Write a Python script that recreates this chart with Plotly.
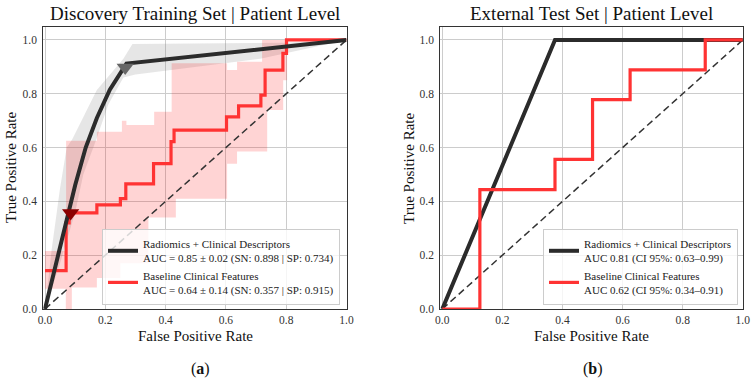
import plotly.graph_objects as go

# ---------------- data ----------------
# Discovery training set (mean ROC of model + band)
train_model_fpr = [0.0, 0.10, 0.135, 0.172, 0.215, 0.27, 1.0]
train_model_tpr = [0.0, 0.46, 0.60, 0.71, 0.815, 0.912, 1.0]
train_model_up_fpr = [0.0, 0.022, 0.05, 0.072, 0.09, 0.172, 0.26, 0.29, 0.8, 1.0]
train_model_up_tpr = [0.0, 0.22, 0.45, 0.60, 0.63, 0.814, 0.93, 0.985, 0.99, 1.0]
train_model_lo_fpr = [0.0, 0.05, 0.10, 0.127, 0.17, 0.21, 0.26, 0.30, 0.42, 0.714, 1.0]
train_model_lo_tpr = [0.0, 0.17, 0.36, 0.50, 0.63, 0.76, 0.86, 0.872, 0.89, 0.93, 1.0]

# Discovery training set (baseline clinical, step ROC + band)
train_base_fpr = [0.0, 0.07, 0.08, 0.172, 0.25, 0.268, 0.36, 0.418, 0.428, 0.602, 0.642, 0.716, 0.73, 0.789, 0.801, 1.0]
train_base_tpr = [0.143, 0.32, 0.357, 0.387, 0.41, 0.465, 0.54, 0.622, 0.665, 0.714, 0.755, 0.795, 0.888, 0.95, 1.0, 1.0]
train_base_up_fpr = [0.0, 0.07, 0.172, 0.255, 0.27, 0.362, 0.42, 0.604, 0.637, 0.72, 1.0]
train_base_up_tpr = [0.216, 0.625, 0.659, 0.70, 0.684, 0.733, 0.913, 0.888, 0.919, 1.0, 1.0]
train_base_lo_fpr = [0.0, 0.069, 0.089, 0.172, 0.25, 0.343, 0.434, 0.604, 0.637, 0.737, 0.79, 0.803, 1.0]
train_base_lo_tpr = [0.075, 0.0, 0.08, 0.115, 0.17, 0.34, 0.41, 0.54, 0.585, 0.74, 0.85, 1.0, 1.0]

# operating points (1 - SP, SN)
model_sn, model_sp = 0.898, 0.734
base_sn, base_sp = 0.357, 0.915

# External test set
test_model_fpr = [0.0, 0.375, 1.0]
test_model_tpr = [0.0, 1.0, 1.0]
test_base_fpr = [0.0, 0.125, 0.375, 0.5, 0.625, 0.875, 1.0]
test_base_tpr = [0.0, 0.444, 0.556, 0.778, 0.889, 1.0, 1.0]

chance = [0.0, 1.0]
ticks = [0.0, 0.2, 0.4, 0.6, 0.8, 1.0]
tick_labels = ["0.0", "0.2", "0.4", "0.6", "0.8", "1.0"]

names_train = ["Radiomics + Clinical Descriptors<br>AUC = 0.85 ± 0.02 (SN: 0.898 | SP: 0.734)",
               "Baseline Clinical Features<br>AUC = 0.64 ± 0.14 (SN: 0.357 | SP: 0.915)"]
names_test = ["Radiomics + Clinical Descriptors<br>AUC 0.81 (CI 95%: 0.63–0.99)",
              "Baseline Clinical Features<br>AUC 0.62 (CI 95%: 0.34–0.91)"]

# ---------------- styling ----------------
FONT = "Liberation Serif"
BLACK = "#2b2b2b"
RED = "#ff3333"
W, H = 755, 383

fig = go.Figure()


def expand_hv(xs, ys):
    ox, oy = [xs[0]], [ys[0]]
    for i in range(1, len(xs)):
        ox += [xs[i], xs[i]]
        oy += [ys[i - 1], ys[i]]
    return ox, oy


def band(lo_x, lo_y, up_x, up_y, color, step, xa, ya):
    if step:
        lo_x, lo_y = expand_hv(lo_x, lo_y)
        up_x, up_y = expand_hv(up_x, up_y)
    px = list(up_x) + list(reversed(lo_x))
    py = list(up_y) + list(reversed(lo_y))
    fig.add_trace(go.Scatter(x=px, y=py, mode="lines", line=dict(width=0),
                             fill="toself", fillcolor=color,
                             showlegend=False, hoverinfo="skip", xaxis=xa, yaxis=ya))


# left panel
band(train_model_lo_fpr, train_model_lo_tpr, train_model_up_fpr, train_model_up_tpr,
     "rgba(128,128,128,0.2)", False, "x", "y")
band(train_base_lo_fpr, train_base_lo_tpr, train_base_up_fpr, train_base_up_tpr,
     "rgba(255,0,0,0.17)", True, "x", "y")
fig.add_trace(go.Scatter(x=chance, y=chance, mode="lines", line=dict(color="#333", width=1.5, dash="7px,4px"),
                         showlegend=False, xaxis="x", yaxis="y"))
fig.add_trace(go.Scatter(x=train_base_fpr, y=train_base_tpr, mode="lines",
                         line=dict(color=RED, width=3.2, shape="hv"),
                         name=names_train[1], legendrank=2, legend="legend", xaxis="x", yaxis="y"))
fig.add_trace(go.Scatter(x=train_model_fpr, y=train_model_tpr, mode="lines",
                         line=dict(color=BLACK, width=4),
                         name=names_train[0], legendrank=1, legend="legend", xaxis="x", yaxis="y"))
fig.add_trace(go.Scatter(x=[1 - model_sp], y=[model_sn], mode="markers",
                         marker=dict(symbol="triangle-down", size=15, color="#666666"),
                         showlegend=False, xaxis="x", yaxis="y"))
fig.add_trace(go.Scatter(x=[1 - base_sp], y=[base_sn], mode="markers",
                         marker=dict(symbol="triangle-down", size=15, color="#8b0000"),
                         showlegend=False, xaxis="x", yaxis="y"))

# right panel
fig.add_trace(go.Scatter(x=chance, y=chance, mode="lines", line=dict(color="#333", width=1.5, dash="7px,4px"),
                         showlegend=False, xaxis="x2", yaxis="y2"))
fig.add_trace(go.Scatter(x=test_model_fpr, y=test_model_tpr, mode="lines",
                         line=dict(color=BLACK, width=4),
                         name=names_test[0], legendrank=1, legend="legend2", xaxis="x2", yaxis="y2"))
fig.add_trace(go.Scatter(x=test_base_fpr, y=test_base_tpr, mode="lines",
                         line=dict(color=RED, width=3.2, shape="hv"),
                         name=names_test[1], legendrank=2, legend="legend2", xaxis="x2", yaxis="y2"))


def px_x(p):
    return p / W


def px_y(p):
    return 1 - p / H


axis_common = dict(tickvals=ticks, ticktext=tick_labels, showgrid=True, gridcolor="#cccccc", gridwidth=1,
                   zeroline=False, showline=True, linecolor="#333", linewidth=1, mirror=True,
                   automargin=False,
                   tickfont=dict(family=FONT, size=11.5, color="#333"))
xax = dict(ticks="", **axis_common)
yax = dict(ticks="outside", ticklen=3, tickcolor="rgba(0,0,0,0)", **axis_common)

leg_common = dict(xanchor="right", yanchor="bottom",
                  bgcolor="rgba(255,255,255,0.8)", bordercolor="#cccccc", borderwidth=1,
                  font=dict(family=FONT, size=11, color="#222"), tracegroupgap=0, traceorder="normal")

fig.update_layout(
    width=W, height=H, margin=dict(l=0, r=0, t=0, b=0),
    paper_bgcolor="white", plot_bgcolor="white",
    font=dict(family=FONT, color="#222"),
    xaxis=dict(domain=[px_x(43.2), px_x(346.5)], range=[-0.006, 1.0], anchor="y", **xax),
    yaxis=dict(domain=[px_y(309), px_y(26.5)], range=[0, 1.05], anchor="x", **yax),
    xaxis2=dict(domain=[px_x(440.2), px_x(742.8)], range=[-0.007, 1.0], anchor="y2", **xax),
    yaxis2=dict(domain=[px_y(309), px_y(26.5)], range=[0, 1.05], anchor="x2", **yax),
    legend=dict(x=px_x(340), y=px_y(305), **leg_common),
    legend2=dict(x=px_x(738), y=px_y(305), **leg_common),
)

ann = [
    ("Discovery Training Set | Patient Level", 195, 14, 19, 0),
    ("External Test Set | Patient Level", 591.5, 14, 19, 0),
    ("False Positive Rate", 195, 336, 15, 0),
    ("False Positive Rate", 591.5, 336, 15, 0),
    ("True Positive Rate", 11, 168, 15, -90),
    ("True Positive Rate", 409, 168, 15, -90),
    ("(<b>a</b>)", 200, 369, 16, 0),
    ("(<b>b</b>)", 593, 369, 16, 0),
]
for text, x, y, size, ang in ann:
    fig.add_annotation(text=text, x=px_x(x), y=px_y(y), xref="paper", yref="paper",
                       xanchor="center", yanchor="middle", showarrow=False, textangle=ang,
                       font=dict(family=FONT, size=size, color="#111"))

fig.write_html("out.html", config={"displayModeBar": False, "staticPlot": True},
               post_script="document.body.style.margin='0';document.body.style.overflow='hidden';")
